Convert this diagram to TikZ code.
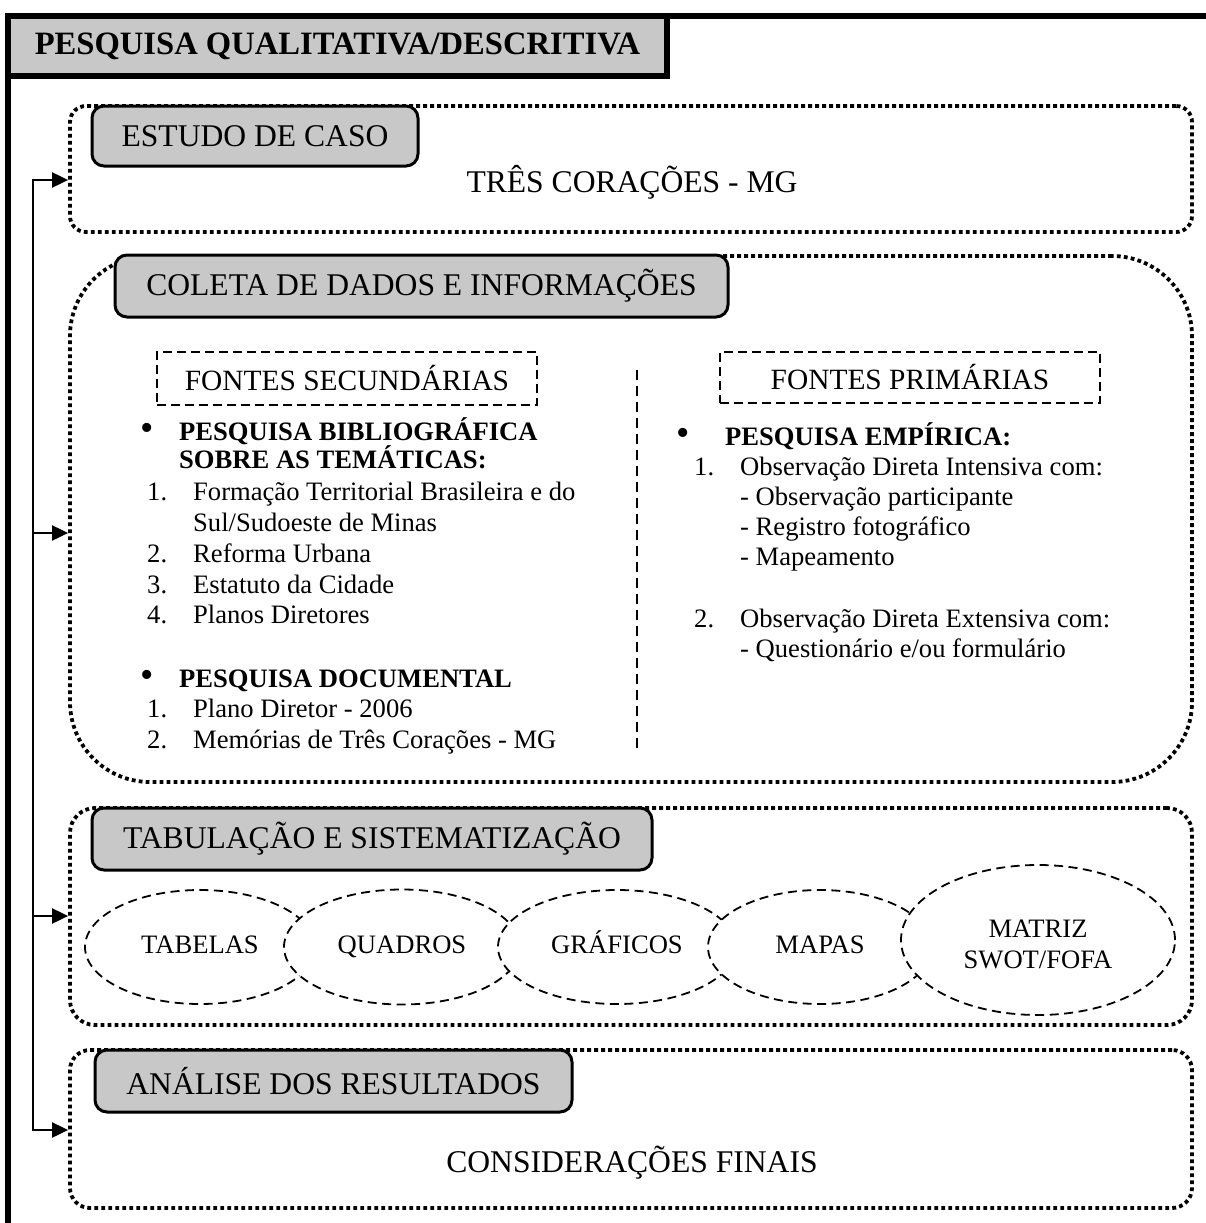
\documentclass[tikz,border=0pt]{standalone}
\usepackage{fontspec}
\setmainfont{Liberation Serif}
\usetikzlibrary{shapes.geometric,arrows.meta}
\definecolor{lblgray}{RGB}{200,200,200}
\newcommand\fsL{\fontsize{31.6}{36}\selectfont}
\newcommand\fsT{\fontsize{32.6}{36}\selectfont}
\newcommand\fsB{\fontsize{26.6}{31}\selectfont}
\newcommand\fsF{\fontsize{29.4}{34}\selectfont}
\newcommand\fsBul{\fontsize{38}{38}\selectfont}
\begin{document}
\begin{tikzpicture}[x=1pt,y=-1pt,
  container/.style={draw, line width=3.8pt, dash pattern=on 3.8pt off 3.2pt, rounded corners=#1, inner sep=0pt},
  container/.default=16pt,
  lbl/.style={draw, fill=lblgray, line width=3pt, rounded corners=12pt, inner sep=0pt, font=\fsL},
  srcbox/.style={draw, line width=1.8pt, dash pattern=on 9pt off 5pt, inner sep=0pt, font=\fsF},
  oval/.style={ellipse, draw, fill=white, line width=1.8pt, dash pattern=on 9pt off 5.5pt, inner sep=0pt, font=\fsB, text height=18pt, text depth=6pt},
  txt/.style={anchor=base west, inner sep=0pt, font=\fsB},
  btxt/.style={anchor=base west, inner sep=0pt, font=\fsB\bfseries},
  bul/.style={anchor=center, inner sep=0pt, font=\fsBul},
  fb/.style={line width=2pt},
  fbarrow/.style={fb, -{Triangle[length=16pt,width=15pt]}}
]
\useasboundingbox (0,0) rectangle (1206,1223);

% outer frame
\draw[line width=6pt] (8,1240) -- (8,16) -- (1220,16);
\node[draw, fill=lblgray, line width=6pt, minimum width=659pt, minimum height=60pt, inner sep=0pt, font=\fsT\bfseries] (title) at (337.5,46) {PESQUISA QUALITATIVA/DESCRITIVA};

% containers
\node[container=16pt, minimum width=1122pt, minimum height=126pt] (box1) at (631,169) {};
\node[container=80pt, minimum width=1122pt, minimum height=526pt] (box2) at (631,519) {};
\node[container=25pt, minimum width=1122pt, minimum height=217pt] (box3) at (631,916.5) {};
\node[container=20pt, minimum width=1122pt, minimum height=158pt] (box4) at (631,1129) {};

% labels
\node[lbl, minimum width=326pt, minimum height=60pt] (lab1) at (255,136) {ESTUDO DE CASO};
\node[lbl, minimum width=613pt, minimum height=62pt] (lab2) at (421.5,286) {COLETA DE DADOS E INFORMAÇÕES};
\node[lbl, minimum width=560pt, minimum height=62pt] (lab3) at (372,839) {TABULAÇÃO E SISTEMATIZAÇÃO};
\node[lbl, minimum width=477pt, minimum height=62pt] (lab4) at (333.5,1081) {ANÁLISE DOS RESULTADOS};

\node[font=\fsL, inner sep=0pt] (tres) at (632,182) {TRÊS CORAÇÕES - MG};
\node[font=\fsL, inner sep=0pt] (consid) at (632,1163) {CONSIDERAÇÕES FINAIS};

% feedback connector
\coordinate (fb1) at (33,180);
\coordinate (fb2) at (33,533);
\coordinate (fb3) at (33,916);
\coordinate (fb4) at (33,1130);
\draw[fb, line cap=rect] (fb1) -- (fb4);
\draw[fbarrow] (fb1) -- (fb1 -| box1.west);
\draw[fbarrow] (fb2) -- (fb2 -| box2.west);
\draw[fbarrow] (fb3) -- (fb3 -| box3.west);
\draw[fbarrow] (fb4) -- (fb4 -| box4.west);

% sources
\node[srcbox, minimum width=380pt, minimum height=53pt] (sec) at (347,378.5) {FONTES SECUNDÁRIAS};
\node[srcbox, minimum width=380pt, minimum height=51pt] (pri) at (910,377.5) {FONTES PRIMÁRIAS};
\coordinate (divtop) at (637,370);
\coordinate (divbot) at (637,752);
\draw[line width=1.6pt, dash pattern=on 10pt off 6pt] (divtop) -- (divbot);

% left column
\node[bul] (lb1) at (147,432) {•};
\node[btxt] (l1) at (179,440) {PESQUISA BIBLIOGRÁFICA};
\node[btxt] (l2) at (179,468) {SOBRE AS TEMÁTICAS:};
\node[txt] (ln1) at (147,500) {1.};
\node[txt] (l3) at (193,500) {Formação Territorial Brasileira e do};
\node[txt] (l4) at (193,531) {Sul/Sudoeste de Minas};
\node[txt] (ln2) at (147,562) {2.};
\node[txt] (l5) at (193,562) {Reforma Urbana};
\node[txt] (ln3) at (147,593) {3.};
\node[txt] (l6) at (193,593) {Estatuto da Cidade};
\node[txt] (ln4) at (147,623) {4.};
\node[txt] (l7) at (193,623) {Planos Diretores};
\node[bul] (lb2) at (147,679) {•};
\node[btxt] (l8) at (179,687) {PESQUISA DOCUMENTAL};
\node[txt] (ln5) at (147,717) {1.};
\node[txt] (l9) at (193,717) {Plano Diretor - 2006};
\node[txt] (ln6) at (147,748) {2.};
\node[txt] (l10) at (193,748) {Memórias de Três Corações - MG};

% right column
\node[bul] (rb1) at (683,437) {•};
\node[btxt] (r1) at (725,445) {PESQUISA EMPÍRICA:};
\node[txt] (rn1) at (694,475) {1.};
\node[txt] (r2) at (740,475) {Observação Direta Intensiva com:};
\node[txt] (r3) at (740,505) {- Observação participante};
\node[txt] (r4) at (740,535) {- Registro fotográfico};
\node[txt] (r5) at (740,565) {- Mapeamento};
\node[txt] (rn2) at (694,627) {2.};
\node[txt] (r6) at (740,627) {Observação Direta Extensiva com:};
\node[txt] (r7) at (740,657) {- Questionário e/ou formulário};

% ovals
\node[oval, minimum width=230pt, minimum height=114pt] (tab) at (200,947) {TABELAS};
\node[oval, minimum width=236pt, minimum height=115pt] (qua) at (402,947) {QUADROS};
\node[oval, minimum width=238pt, minimum height=114pt] (gra) at (617,947) {GRÁFICOS};
\node[oval, minimum width=224pt, minimum height=114pt] (map) at (820,947) {MAPAS};
\node[oval, minimum width=274pt, minimum height=150pt] (mat) at (1038,940) {};
\node[font=\fsB, align=center, inner sep=0pt] (mattxt) at (mat.center) [yshift=-4pt] {MATRIZ\\SWOT/FOFA};
\end{tikzpicture}
\end{document}
